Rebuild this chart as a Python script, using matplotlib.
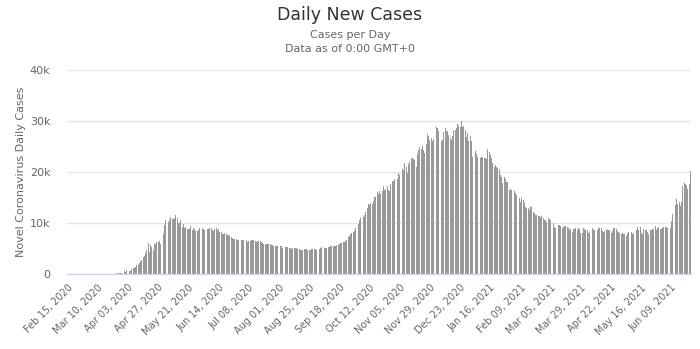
import datetime as dt
import matplotlib
matplotlib.use("Agg")
import matplotlib.pyplot as plt

# Daily new cases, Feb 15 2020 - Jun 24 2021
feb_2020 = [0] * 15
mar_2020 = [0, 1, 0, 0, 1, 6, 4, 0, 2, 3, 8, 6, 11, 14, 4, 27, 24, 33, 52, 54,
            53, 61, 71, 57, 163, 182, 196, 228, 270, 302, 501]
apr_2020 = [440, 771, 601, 582, 658, 954, 1154, 1175, 1459, 1786, 1667, 2186, 2558,
            2774, 3388, 3448, 4070, 4785, 6060, 4268, 5642, 5236, 4774, 5849, 5966,
            6361, 6198, 6411, 5841, 7099]
may_2020 = [7933, 9623, 10633, 10581, 10102, 10559, 11231, 10699, 10817, 11012, 11656,
            10899, 10028, 9974, 10598, 9200, 9709, 8926, 9263, 8764, 8849, 8894, 9434,
            8599, 8946, 8915, 8338, 8371, 8572, 8952, 9268]
jun_2020 = [9035, 8863, 8536, 8831, 8726, 8855, 8984, 8985, 8595, 8404, 8779, 8987,
            8706, 8835, 8246, 8248, 7843, 7790, 7972, 7889, 7728, 7600, 7425, 7176,
            7113, 6800, 6852, 6791, 6719, 6693]
jul_2020 = [6556, 6760, 6718, 6632, 6736, 6611, 6368, 6562, 6509, 6635, 6615, 6611,
            6537, 6248, 6422, 6428, 6406, 6234, 6109, 5940, 5842, 5862, 5848, 5811,
            5871, 5765, 5635, 5395, 5475, 5509, 5482]
aug_2020 = [5462, 5427, 5394, 5159, 5204, 5267, 5241, 5212, 5189, 5118, 4945, 5102,
            5057, 5065, 5061, 4969, 4892, 4748, 4790, 4767, 4870, 4921, 4852, 4676,
            4696, 4711, 4829, 4941, 4980, 4897, 4729]
sep_2020 = [4729, 4952, 5110, 5205, 5195, 5185, 5099, 5099, 5363, 5310, 5405, 5488,
            5449, 5509, 5529, 5670, 5762, 5905, 6065, 6148, 6196, 6215, 6431, 6595,
            7212, 7523, 7867, 8135, 8232, 8481]
oct_2020 = [8945, 9412, 9859, 10499, 10888, 11615, 11115, 11493, 12126, 12846, 13634,
            13592, 13868, 13754, 14231, 15150, 15099, 15982, 15711, 16319, 15700, 16202,
            17340, 16521, 16710, 17347, 16550, 16202, 17717, 18283, 18140]
nov_2020 = [18665, 18257, 18648, 19768, 19404, 20582, 20498, 20396, 21798, 20977, 19851,
            21608, 21983, 22702, 22778, 22572, 22410, 20985, 23610, 24318, 24822, 24581,
            25173, 24326, 23675, 25487, 27543, 27100, 26338, 26683]
dec_2020 = [25998, 26402, 28145, 28782, 28585, 28137, 27403, 26097, 26190, 27927, 28585,
            28137, 28080, 27328, 26689, 26190, 27039, 28214, 28209, 28552, 29350, 28948,
            28776, 29935, 28900, 29000, 28200, 26900, 27700, 26100, 27000]
jan_2021 = [26000, 23000, 24000, 24200, 23500, 23000, 23300, 22700, 23000, 22900, 22700,
            22800, 22600, 24500, 24000, 23400, 22700, 21700, 21000, 21400, 21000, 20700,
            20500, 19500, 19000, 17900, 19000, 18700, 18100, 18000, 16500]
feb_2021 = [16600, 16400, 16500, 16200, 15900, 15500, 15200, 14900, 14200, 14900, 14600,
            14000, 13200, 12900, 13000, 12500, 13300, 13200, 12200, 11900, 11600, 11500,
            11300, 11400, 11200, 11300, 11000, 10600]
mar_2021 = [10500, 10200, 10900, 10700, 10500, 10300, 10000, 9300, 9000, 9300, 9700,
            9600, 9400, 9000, 9300, 9500, 9400, 9200, 9000, 8700, 8800, 8300, 8800,
            8900, 9000, 8700, 9000, 8800, 8100, 8000, 9000]
apr_2021 = [8800, 8700, 8600, 8100, 8300, 8200, 9000, 8600, 8700, 8400, 8700, 9000,
            9100, 9000, 8500, 8200, 8500, 8800, 8700, 8700, 8700, 8000, 8500, 9000,
            9000, 8800, 8400, 8300, 8100, 7800]
may_2021 = [8000, 7900, 7800, 7500, 8000, 8200, 8100, 8300, 7900, 8000, 8300, 8600,
            9200, 8600, 9200, 8100, 7800, 8900, 8700, 8600, 8300, 7800, 8600, 8700,
            8900, 8900, 9400, 8600, 9000, 9300, 8900]
jun_2021 = [8900, 9000, 9200, 9200, 9300, 9100, 8900, 9000, 10400, 11700, 12500, 13500,
            14700, 13700, 14200, 13400, 14100, 17300, 17900, 17600, 17400, 16700, 17600,
            20200]

cases = (feb_2020 + mar_2020 + apr_2020 + may_2020 + jun_2020 + jul_2020 + aug_2020
         + sep_2020 + oct_2020 + nov_2020 + dec_2020 + jan_2021 + feb_2021 + mar_2021
         + apr_2021 + may_2021 + jun_2021)

start = dt.date(2020, 2, 15)
dates = [start + dt.timedelta(days=i) for i in range(len(cases))]
date_labels = [d.strftime("%b %d, %Y") for d in dates]

y_ticks = [0, 10000, 20000, 30000, 40000]
y_tick_labels = ["0", "10k", "20k", "30k", "40k"]
label_step = 24

fig = plt.figure(figsize=(7.0, 3.49), dpi=100)
ax = fig.add_axes([67 / 700, 1 - 274 / 349, 624 / 700, 204 / 349])

x = list(range(len(cases)))
ax.bar(x, cases, width=0.75, color="#999999", linewidth=0, zorder=2)

ax.set_xlim(-0.5, len(cases) - 0.5)
ax.set_ylim(0, 40000)

ax.set_yticks(y_ticks)
ax.set_yticklabels(y_tick_labels, fontsize=8, color="#666666")
ax.yaxis.grid(True, color="#e6e6e6", linewidth=1, zorder=0)
ax.tick_params(axis="y", length=0, pad=12)

tick_pos = x[::label_step]
ax.set_xticks(tick_pos)
ax.set_xticklabels([date_labels[i] for i in tick_pos], rotation=45, ha="right",
                   rotation_mode="anchor", fontsize=7, color="#666666")
ax.tick_params(axis="x", length=0, pad=6)

for side in ("top", "right", "left"):
    ax.spines[side].set_visible(False)
ax.spines["bottom"].set_color("#ccd6eb")
ax.spines["bottom"].set_linewidth(1)
ax.spines["bottom"].set_zorder(3)

ax.set_ylabel("Novel Coronavirus Daily Cases", fontsize=8, color="#666666", labelpad=3)

fig.text(0.5, 1 - 15 / 349, "Daily New Cases", ha="center", va="center",
         fontsize=12.5, color="#333333")
fig.text(0.5, 1 - 35 / 349, "Cases per Day", ha="center", va="center",
         fontsize=8, color="#666666")
fig.text(0.5, 1 - 49 / 349, "Data as of 0:00 GMT+0", ha="center", va="center",
         fontsize=8, color="#666666")

fig.savefig("out.png", dpi=100)
